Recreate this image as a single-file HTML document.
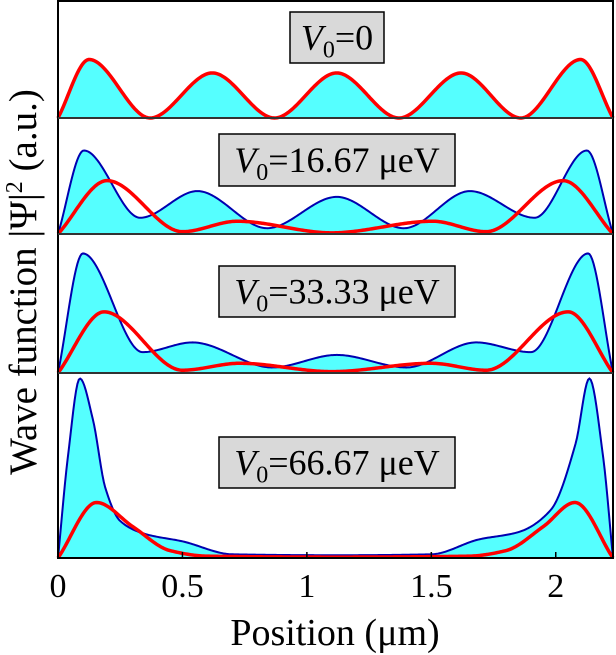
<!DOCTYPE html>
<html><head><meta charset="utf-8"><style>
body{margin:0;background:#fff;}
svg{display:block;}
text,tspan{font-family:"Liberation Serif","DejaVu Serif","Times New Roman",serif;}
</style></head><body>
<svg id="chart" width="616" height="655" viewBox="0 0 616 655">
<g id="plots"></g>
<g id="frame"></g>
<g id="labels"></g>
<g id="axis"></g>
<text transform="translate(36,282) rotate(-90)" text-anchor="middle" font-size="39">Wave function |Ψ|<tspan dy="-14" font-size="24">2</tspan><tspan dy="14"> (a.u.)</tspan></text>
<text x="335" y="645" text-anchor="middle" font-size="38">Position (μm)</text>
</svg>
<script>
// x-axis ticks
const tickValues=[0,0.5,1,1.5,2];
const tickLabels=["0","0.5","1","1.5","2"];
const panelLabels=["0","16.67 μeV","33.33 μeV","66.67 μeV"];
// panel 1 (V0=0): blue and red coincide
const p1X=[0,0.125,0.37,0.62,0.87,1.12,1.37,1.62,1.86,2.1,2.23];
const p1Y=[0,0.50,0,0.385,0,0.385,0,0.385,0,0.50,0];
// panel 2 (V0=16.67)
const p2BlueX=[0,0.104,0.33,0.56,0.84,1.12,1.39,1.655,1.915,2.125,2.23];
const p2BlueY=[0,0.72,0.14,0.37,0.05,0.32,0.05,0.37,0.14,0.72,0];
const p2RedX=[0,0.197,0.50,0.72,1.1,1.506,1.72,2.03,2.23];
const p2RedY=[0,0.46,0.02,0.11,0.01,0.11,0.02,0.46,0];
// panel 3 (V0=33.33)
const p3BlueX=[0,0.10,0.34,0.54,0.86,1.12,1.40,1.68,1.90,2.13,2.23];
const p3BlueY=[0,0.86,0.15,0.22,0.04,0.13,0.04,0.22,0.15,0.86,0];
const p3RedX=[0,0.185,0.50,0.73,1.1,1.5,1.72,2.05,2.23];
const p3RedY=[0,0.44,0.02,0.07,0.01,0.07,0.02,0.44,0];
// panel 4 (V0=66.67)
const p4BlueX=[0,0.04,0.088,0.14,0.19,0.25,0.35,0.50,0.70,1.12,1.50,1.69,1.85,1.98,2.08,2.135,2.19,2.23];
const p4BlueY=[0,0.55,0.97,0.75,0.38,0.20,0.13,0.09,0.02,0.015,0.02,0.10,0.14,0.26,0.62,0.97,0.55,0];
const p4RedX=[0,0.155,0.30,0.45,0.60,1.12,1.65,1.80,1.95,2.077,2.23];
const p4RedY=[0,0.30,0.17,0.04,0.01,0.005,0.01,0.04,0.17,0.30,0];

const NS="http://www.w3.org/2000/svg";
const X0=58,X1=613,XMAX=2.23;
const panels=[{top:1,bot:118},{top:118,bot:234},{top:234,bot:373},{top:373,bot:558}];
const xs=v=>X0+(v/XMAX)*(X1-X0);
function ys(p,v){return p.bot-v*(p.bot-p.top);}
function mono(X,Y){const n=X.length,d=[],m=[];
for(let i=0;i<n-1;i++)d.push((Y[i+1]-Y[i])/(X[i+1]-X[i]));
m[0]=d[0];m[n-1]=d[n-2];
for(let i=1;i<n-1;i++){if(d[i-1]*d[i]<=0)m[i]=0;else{const w1=2*(X[i+1]-X[i])+(X[i]-X[i-1]),w2=(X[i+1]-X[i])+2*(X[i]-X[i-1]);m[i]=(w1+w2)/(w1/d[i-1]+w2/d[i]);}}
return t=>{let i=0;while(i<n-2&&t>X[i+1])i++;const h=X[i+1]-X[i],s=(t-X[i])/h;
const h00=2*s*s*s-3*s*s+1,h10=s*s*s-2*s*s+s,h01=-2*s*s*s+3*s*s,h11=s*s*s-s*s;
return Math.max(0,h00*Y[i]+h10*h*m[i]+h01*Y[i+1]+h11*h*m[i+1]);};}
function path(p,X,Y,close){const f=mono(X,Y);let d="";
for(let k=0;k<=400;k++){const t=XMAX*k/400;d+=(k?"L":"M")+xs(t).toFixed(2)+","+ys(p,f(t)).toFixed(2);}
if(close)d+="L"+xs(XMAX)+","+p.bot+"L"+xs(0)+","+p.bot+"Z";return d;}
function mk(tag,attrs,parent){const e=document.createElementNS(NS,tag);for(const k in attrs)e.setAttribute(k,attrs[k]);parent.appendChild(e);return e;}
const G=document.getElementById("plots");
const series=[[p1X,p1Y,null,null],[p2BlueX,p2BlueY,p2RedX,p2RedY],[p3BlueX,p3BlueY,p3RedX,p3RedY],[p4BlueX,p4BlueY,p4RedX,p4RedY]];
series.forEach((s,i)=>{const p=panels[i];
const fill=mk("path",{d:path(p,s[0],s[1],true),fill:"#55ffff",stroke:"none"},G);


if(s[2]){const b=mk("path",{d:path(p,s[0],s[1],false),fill:"none",stroke:"#0000b0","stroke-width":2},G);


const r=mk("path",{d:path(p,s[2],s[3],false),fill:"none",stroke:"#ff0000","stroke-width":3.5},G);

}
else{const r=mk("path",{d:path(p,s[0],s[1],false),fill:"none",stroke:"#ff0000","stroke-width":3.5},G);

}
});
const F=document.getElementById("frame");
const box=mk("rect",{x:X0,y:1,width:X1-X0,height:557,fill:"none",stroke:"#000","stroke-width":2},F);


[118,234,373].forEach(y=>{const l=mk("line",{x1:X0,x2:X1,y1:y,y2:y,stroke:"#333","stroke-width":2},F);

});
const A=document.getElementById("axis");
tickValues.forEach((v,i)=>{const x=xs(v);
const t=mk("line",{x1:x,x2:x,y1:558,y2:552,stroke:"#000","stroke-width":1.5},A);


const tx=mk("text",{x:x,y:597,"text-anchor":"middle","font-size":34},A);
tx.textContent=tickLabels[i];

});
const L=document.getElementById("labels");
const boxes=[{x:290,y:12,w:94,h:51},{x:219,y:134,w:236,h:52},{x:219,y:266,w:236,h:51},{x:219,y:437,w:236,h:51}];
boxes.forEach((b,i)=>{const g=mk("g",{},L);


mk("rect",{x:b.x,y:b.y,width:b.w,height:b.h,fill:"#d9d9d9",stroke:"#000","stroke-width":1.5},g);
const t=mk("text",{x:b.x+b.w/2,y:b.y+b.h/2+12,"text-anchor":"middle","font-size":36},g);
t.innerHTML='<tspan font-style="italic">V</tspan><tspan dy="8" font-size="24">0</tspan><tspan dy="-8">='+panelLabels[i]+'</tspan>';});
</script>
</body></html>
